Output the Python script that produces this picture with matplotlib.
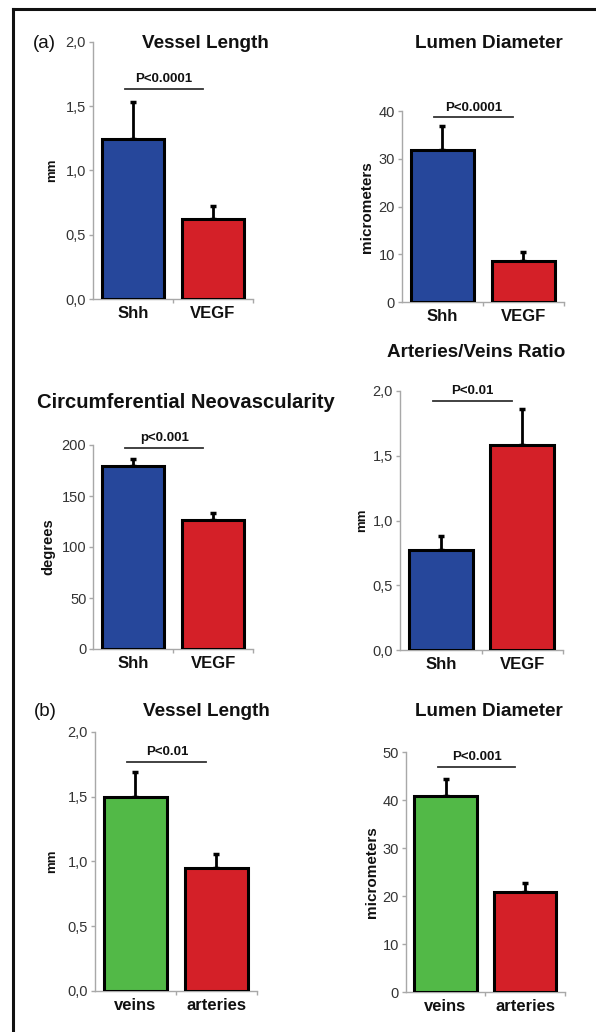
import matplotlib
matplotlib.use("Agg")
import matplotlib.pyplot as plt
from matplotlib.ticker import FuncFormatter

plt.rcParams['font.family'] = ['Liberation Sans', 'DejaVu Sans']

W, H = 596, 1032

BLUE = '#26479b'
RED = '#d42028'
GREEN = '#52b947'

# --- data ---
groups_a = ["Shh", "VEGF"]
groups_b = ["veins", "arteries"]

vessel_a = [1.24, 0.62]
vessel_a_err = [0.29, 0.10]

lumen_a = [31.9, 8.7]
lumen_a_err = [4.9, 1.8]

circ_a = [179.5, 126.5]
circ_a_err = [7.0, 6.5]

ratio_a = [0.77, 1.58]
ratio_a_err = [0.11, 0.28]

vessel_b = [1.50, 0.95]
vessel_b_err = [0.19, 0.11]

lumen_b = [40.8, 21.0]
lumen_b_err = [3.6, 1.8]

p_texts = ["P<0.0001", "P<0.0001", "p<0.001", "P<0.01", "P<0.01", "P<0.001"]
p_levels = [1.63, 38.7, 197.5, 1.925, 1.77, 47.0]

panels = [
    # title, labels, values, errs, colors, ylabel, ymax, ystep, comma, box(px: left, right, top, bottom), title pos, title size
    ("Vessel Length", groups_a, vessel_a, vessel_a_err, [BLUE, RED], "mm", 2.0, 0.5, True,
     (92.7, 253, 41.7, 299), (205, 43), 13.6),
    ("Lumen Diameter", groups_a, lumen_a, lumen_a_err, [BLUE, RED], "micrometers", 40, 10, False,
     (401.7, 564, 111, 302.3), (489, 43), 13.6),
    ("Circumferential Neovascularity", groups_a, circ_a, circ_a_err, [BLUE, RED], "degrees", 200, 50, False,
     (93.3, 253, 445, 649), (186, 403), 14.6),
    ("Arteries/Veins Ratio", groups_a, ratio_a, ratio_a_err, [BLUE, RED], "mm", 2.0, 0.5, True,
     (400, 563, 391, 650), (476, 353), 13.6),
    ("Vessel Length", groups_b, vessel_b, vessel_b_err, [GREEN, RED], "mm", 2.0, 0.5, True,
     (95, 256.7, 731.7, 991), (206, 711), 13.6),
    ("Lumen Diameter", groups_b, lumen_b, lumen_b_err, [GREEN, RED], "micrometers", 50, 10, False,
     (405.7, 565, 752.3, 992.3), (489, 712), 13.6),
]

ylabel_x = [52, 367, 48, 362, 52, 372]
ylabel_size = [9.5, 11, 10.5, 9.5, 9.5, 11]

fig = plt.figure(figsize=(W / 100, H / 100), dpi=100)

# frame lines on left and top
fig.add_artist(plt.Line2D([13 / W, 13 / W], [0, 1 - 9 / H], transform=fig.transFigure, color='#111111', lw=2.2))
fig.add_artist(plt.Line2D([13 / W, 1], [1 - 9 / H, 1 - 9 / H], transform=fig.transFigure, color='#111111', lw=2.2))

grey = '#a8a8a8'
for i, (title, labels, vals, errs, cols, ylab, ymax, ystep, comma, box, tpos, tsize) in enumerate(panels):
    l, r, t, b = box
    ax = fig.add_axes([l / W, 1 - b / H, (r - l) / W, (b - t) / H])
    x = list(range(len(vals)))
    ax.bar(x, vals, width=0.78, color=cols, edgecolor='black', linewidth=2.2, zorder=3)
    ax.errorbar(x, vals, yerr=[[0] * len(errs), errs], fmt='none', ecolor='black',
                elinewidth=2.0, capsize=2.5, capthick=2.5, zorder=2)
    ax.set_xlim(-0.5, 1.5)
    ax.set_ylim(0, ymax)
    ticks = [k * ystep for k in range(int(round(ymax / ystep)) + 1)]
    ax.set_yticks(ticks)
    if comma:
        ax.yaxis.set_major_formatter(FuncFormatter(lambda v, p: f"{v:.1f}".replace('.', ',')))
    else:
        ax.yaxis.set_major_formatter(FuncFormatter(lambda v, p: f"{v:.0f}"))
    ax.set_xticks(x)
    ax.set_xticklabels(labels, fontsize=12, fontweight='bold', color='#111111')
    ax.set_xticks([0.5, 1.5], minor=True)
    ax.tick_params(axis='x', which='major', length=0, pad=5)
    ax.tick_params(axis='x', which='minor', length=3, color=grey, width=1)
    ax.tick_params(axis='y', length=3, color=grey, width=1, labelsize=10.5, labelcolor='#333333', pad=2)
    for s in ['top', 'right']:
        ax.spines[s].set_visible(False)
    for s in ['left', 'bottom']:
        ax.spines[s].set_color(grey)
        ax.spines[s].set_linewidth(1)
    ax.set_facecolor('none')

    # significance bar
    pl = p_levels[i]
    ax.plot([-0.1, 0.87], [pl, pl], color='#333333', lw=1.3, clip_on=False, zorder=4)
    ax.text(0.39, pl + ymax * 0.015, p_texts[i], ha='center', va='bottom',
            fontsize=9.5, fontweight='bold', color='#111111')

    fig.text(tpos[0] / W, 1 - tpos[1] / H, title, ha='center', va='center',
             fontsize=tsize, fontweight='bold', color='#111111')
    fig.text(ylabel_x[i] / W, 1 - (t + b) / 2 / H, ylab, rotation=90, ha='center', va='center',
             fontsize=ylabel_size[i], fontweight='bold', color='#111111')

fig.text(44 / W, 1 - 43 / H, "(a)", ha='center', va='center', fontsize=13.5, color='#111111')
fig.text(45 / W, 1 - 711 / H, "(b)", ha='center', va='center', fontsize=13.5, color='#111111')

fig.savefig("out.png", dpi=100, facecolor='white')
